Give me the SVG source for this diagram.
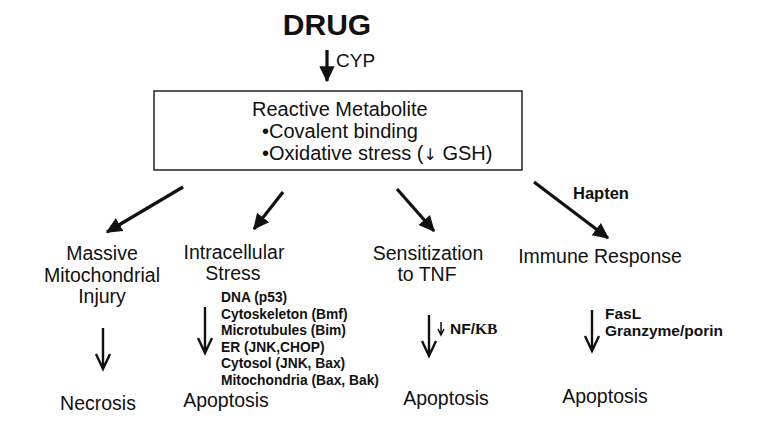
<svg xmlns="http://www.w3.org/2000/svg" width="763" height="436" viewBox="0 0 763 436">
<defs>
<style>
text{font-family:"Liberation Sans",Arial,sans-serif;fill:#111}
.lbl{font-size:19.5px}
.sm{font-size:13.8px;font-weight:bold}
.md{font-size:15.5px;font-weight:bold}
.thick{stroke:#111;stroke-width:3.2;fill:none}
.thin{stroke:#111;stroke-width:2.4;fill:none}
.dj{font-family:"DejaVu Sans",sans-serif;fill:#111}
</style>
<marker id="fh" markerWidth="6" markerHeight="6" refX="4.6" refY="3" orient="auto" markerUnits="strokeWidth" viewBox="0 0 6 6">
<path d="M0,0.6 L5,3 L0,5.4 Z" fill="#111"/>
</marker>
</defs>
<rect width="763" height="436" fill="#fff"/>
<g id="drug"><text x="327" y="35" font-size="30" font-weight="bold" text-anchor="middle">DRUG</text></g>
<g id="metabolite">
<rect x="154" y="91" width="368" height="79" fill="#fff" stroke="#222" stroke-width="1.5"/>
<text x="252" y="116" font-size="20">Reactive Metabolite</text>
<text x="262" y="138" font-size="20">•Covalent binding</text>
<text x="262" y="160" font-size="20">•Oxidative stress (<tspan class="dj" font-size="16">↓</tspan> GSH)</text>
</g>
<g id="mito"><text class="lbl" text-anchor="middle"><tspan x="102" y="260">Massive</tspan><tspan x="102" y="282">Mitochondrial</tspan><tspan x="102" y="303">Injury</tspan></text></g>
<g id="intra"><text class="lbl" text-anchor="middle"><tspan x="234" y="259">Intracellular</tspan><tspan x="233" y="280">Stress</tspan></text>
<text class="sm"><tspan x="221" y="302">DNA (p53)</tspan><tspan x="221" y="318.5">Cytoskeleton (Bmf)</tspan><tspan x="221" y="335">Microtubules (Bim)</tspan><tspan x="221" y="351.5">ER (JNK,CHOP)</tspan><tspan x="221" y="368">Cytosol (JNK, Bax)</tspan><tspan x="221" y="384.5">Mitochondria (Bax, Bak)</tspan></text></g>
<g id="tnf"><text class="lbl" text-anchor="middle"><tspan x="428" y="260">Sensitization</tspan><tspan x="427" y="281">to TNF</tspan></text></g>
<g id="immune"><text class="lbl" x="600" y="263" text-anchor="middle">Immune Response</text></g>
<g id="necrosis"><text class="lbl" x="98" y="410" text-anchor="middle">Necrosis</text></g>
<g id="apop1"><text class="lbl" x="226" y="407" text-anchor="middle">Apoptosis</text></g>
<g id="apop2"><text class="lbl" x="446" y="405" text-anchor="middle">Apoptosis</text></g>
<g id="apop3"><text class="lbl" x="605" y="403" text-anchor="middle">Apoptosis</text></g>
<g id="connectors">
<line class="thick" x1="327" y1="50" x2="327" y2="81" marker-end="url(#fh)"/>
<text x="336" y="67" font-size="19">CYP</text>
<line class="thick" x1="183" y1="187" x2="107" y2="232" marker-end="url(#fh)"/>
<line class="thick" x1="283" y1="192" x2="254" y2="229" marker-end="url(#fh)"/>
<line class="thick" x1="397" y1="189" x2="434" y2="231" marker-end="url(#fh)"/>
<line class="thick" x1="534" y1="182" x2="608" y2="238" marker-end="url(#fh)"/>
<text x="573" y="199" font-size="16.5" font-weight="bold">Hapten</text>
<path class="thin" d="M103,328 V369 M96,354 L103,369 L110,354"/>
<path class="thin" d="M205,307 V353 M198,338 L205,353 L212,338"/>
<path class="thin" d="M429,315 V356 M422,341 L429,356 L436,341"/>
<path d="M441,322 V334 M438,329 L441,335 L444,329" stroke="#111" stroke-width="1.5" fill="none"/>
<text class="md" x="450" y="334">NF/<tspan font-family="Liberation Serif,serif">KB</tspan></text>
<path class="thin" d="M592,310 V351 M585,336 L592,351 L599,336"/>
<text class="md"><tspan x="605" y="319">FasL</tspan><tspan x="605" y="336">Granzyme/porin</tspan></text>
</g>
</svg>
